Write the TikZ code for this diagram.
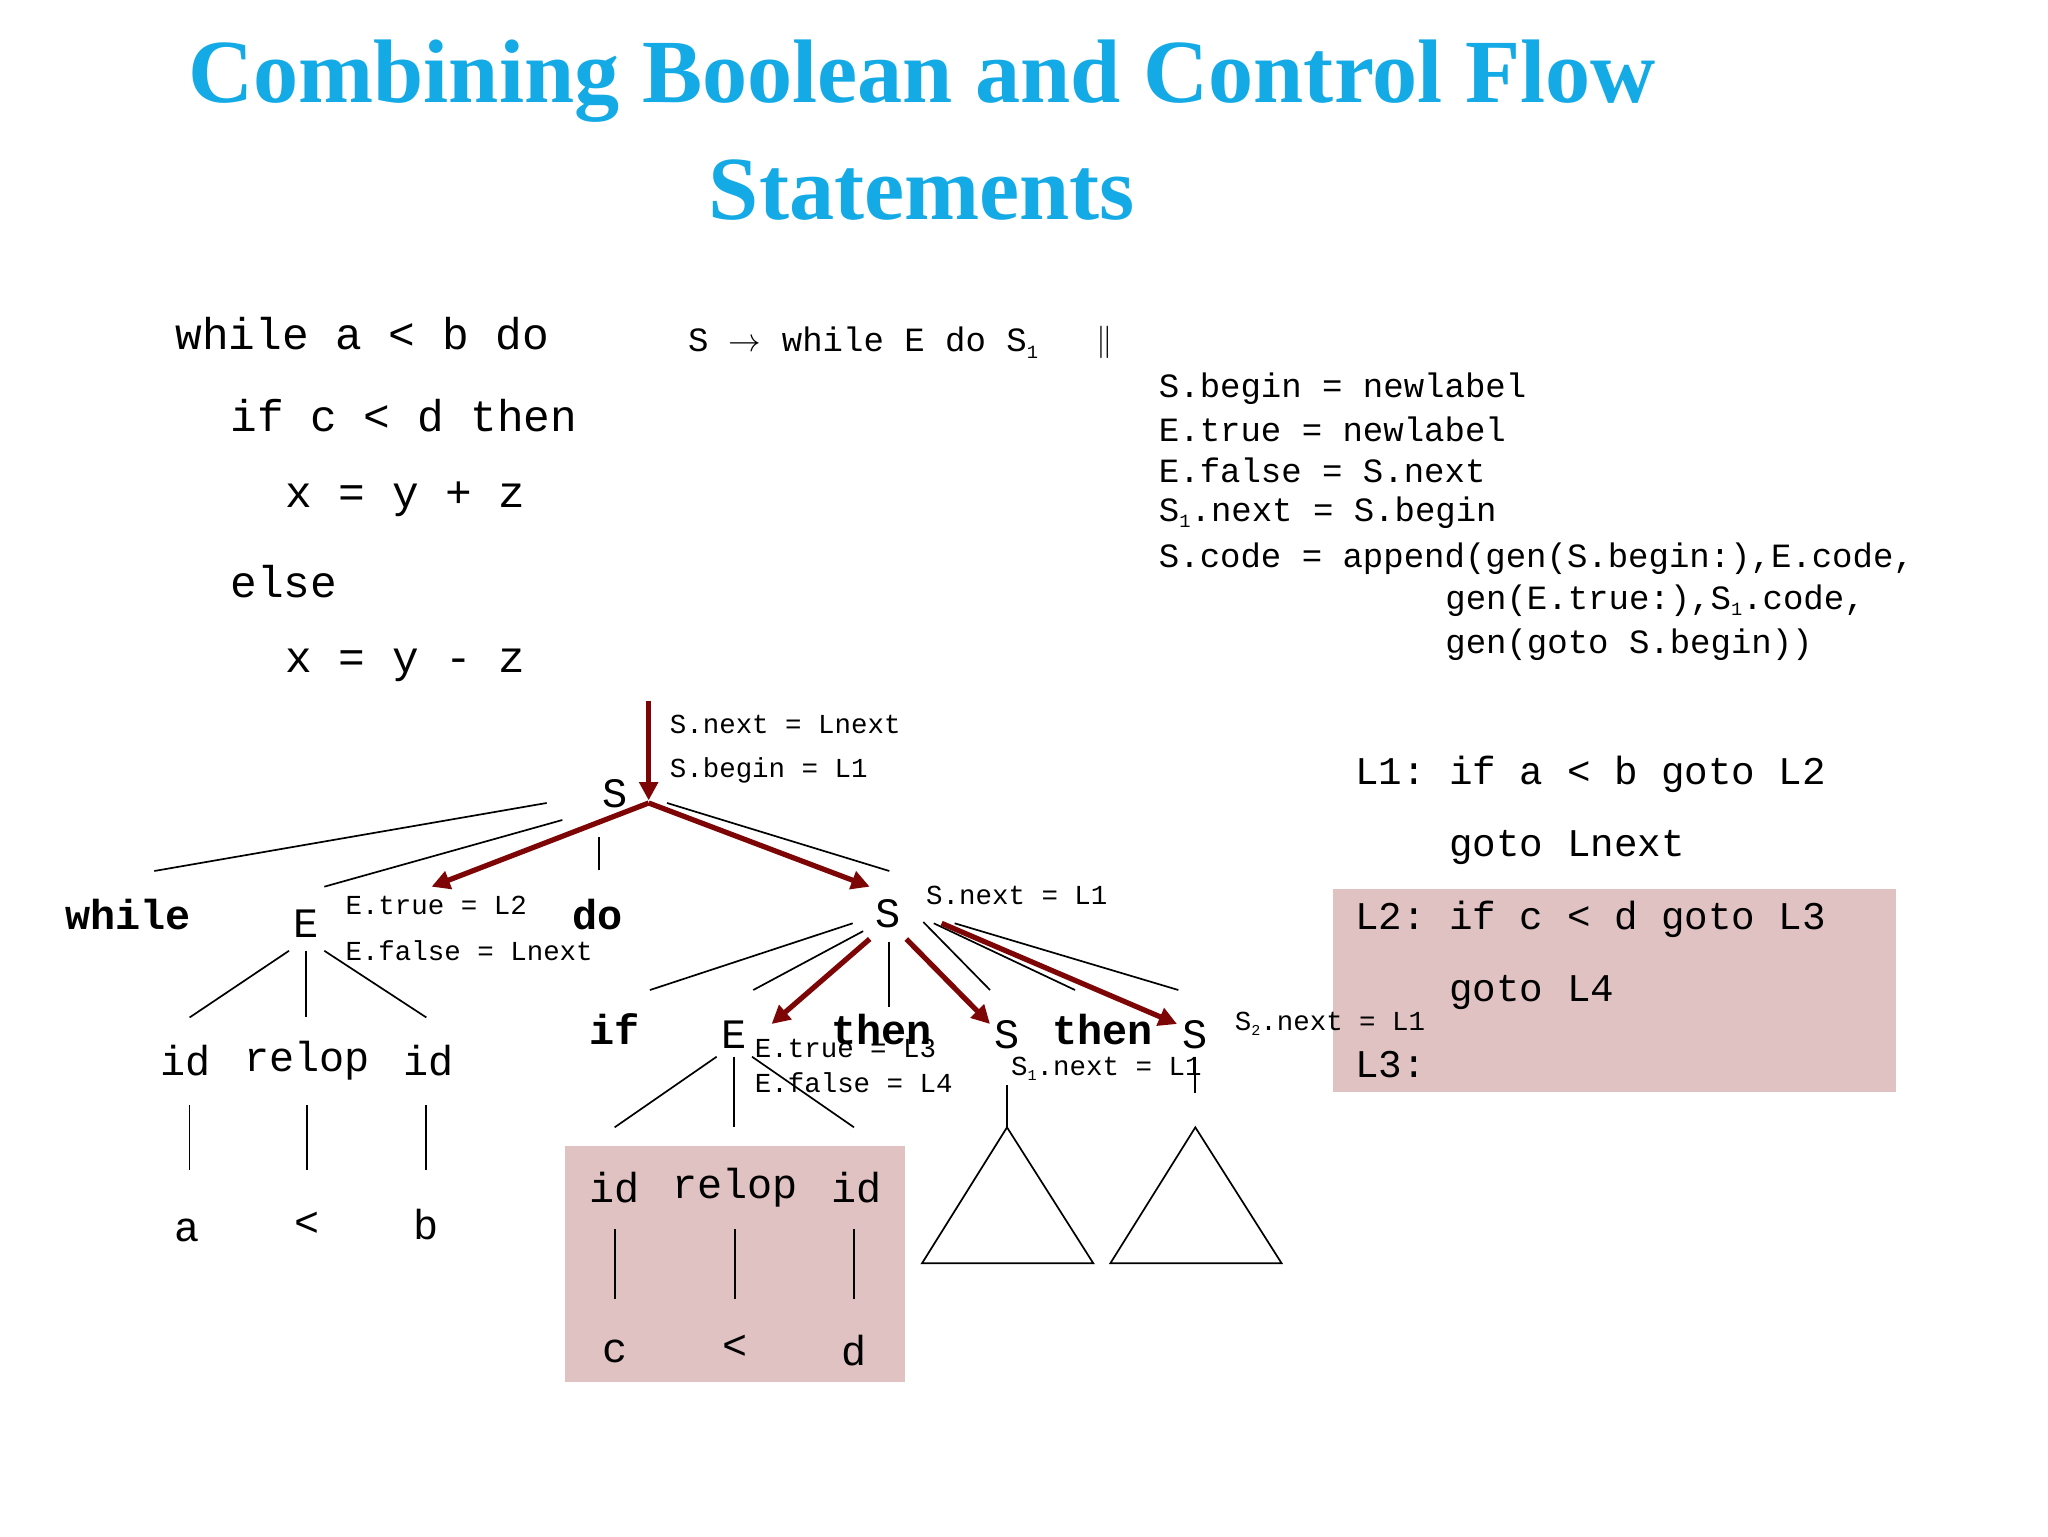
\documentclass[tikz,border=0pt]{standalone}
\usepackage{fontspec}
\setmainfont{Liberation Serif}
\setmonofont{Liberation Mono}
\usetikzlibrary{arrows.meta}
\definecolor{ttl}{RGB}{20,170,230}
\definecolor{dred}{RGB}{125,5,5}
\definecolor{pinkbox}{RGB}{224,194,194}
\newcommand{\mysub}[1]{\raisebox{-0.35ex}{\scalebox{0.55}{#1}}}
\tikzset{
 big/.style={font=\ttfamily\fontsize{34}{36}\selectfont, anchor=west, inner sep=0},
 mid/.style={font=\ttfamily\fontsize{26}{28}\selectfont, anchor=west, inner sep=0},
 sm/.style={font=\ttfamily\fontsize{21}{23}\selectfont, anchor=west, inner sep=0},
 lab/.style={font=\ttfamily\fontsize{30}{32}\selectfont, anchor=west, inner sep=0},
 tn/.style={font=\ttfamily\fontsize{32}{34}\selectfont, inner sep=0},
 tb/.style={font=\ttfamily\bfseries\fontsize{32}{34}\selectfont, inner sep=0},
 ln/.style={line width=1.3pt},
 ra/.style={draw=dred, line width=4pt, -{Triangle[length=14pt,width=14pt]}},
}
\begin{document}
\begin{tikzpicture}[x=1pt,y=-1pt]
\useasboundingbox (0,0) rectangle (1566,1175);
\node[font=\bfseries\fontsize{69}{72}\selectfont, text=ttl] (t1) at (705,62) {Combining Boolean and Control Flow};
\node[font=\bfseries\fontsize{69}{72}\selectfont, text=ttl] (t2) at (705,145) {Statements};
% source code
\node[big] (c1) at (134,255) {while a < b do};
\node[big] (c2) at (176,318) {if c < d then};
\node[big] (c3) at (218,382) {x = y + z};
\node[big] (c4) at (176,445) {else};
\node[big] (c5) at (218,509) {x = y - z};
% production
\node[mid] (p) at (526,262) {S $\rightarrow$ while E do S\mysub{1}};
\node[mid] (pp) at (838,262) {$\Vert$};
\node[mid] (r1) at (886,297) {S.begin = newlabel};
\node[mid] (r2) at (886,328) {E.true = newlabel};
\node[mid] (r3) at (886,360) {E.false = S.next};
\node[mid] (r4) at (886,392) {S\mysub{1}.next = S.begin};
\node[mid] (r5) at (886,427) {S.code = append(gen(S.begin:),E.code,};
\node[mid] (r6) at (1105,459) {gen(E.true:),S\mysub{1}.code,};
\node[mid] (r7) at (1105,493) {gen(goto S.begin))};
% right code
\fill[pinkbox] (1019,680) rectangle (1450,835);
\node[lab] (k1) at (1036,592) {L1: if a < b goto L2};
\node[lab] (k2) at (1108,648) {goto Lnext};
\node[lab] (k3) at (1036,703) {L2: if c < d goto L3};
\node[lab] (k4) at (1108,759) {goto L4};
\node[lab] (k5) at (1036,814) {L3:};
% tree
\fill[pinkbox] (432,876) rectangle (692,1057);
\coordinate (top) at (496,536);
\node[tn] (S0) at (470,607) {S};
\draw[ra] (top) -- (496,612);
\node[sm] (a1) at (512,554) {S.next = Lnext};
\node[sm] (a2) at (512,589) {S.begin = L1};
\node[tb] (wh) at (98,699) {while};
\node[tn] (E1) at (234,706) {E};
\node[sm] (a3) at (264,692) {E.true = L2};
\node[sm] (a4) at (264,727) {E.false = Lnext};
\node[tb] (do) at (457,699) {do};
\node[tn] (S1) at (679,699) {S};
\node[sm] (a5) at (708,685) {S.next = L1};
\draw[ln] (418,614) -- (118,666);
\draw[ln] (430,627) -- (248,678);
\draw[ln] (458,640) -- (458,665);
\draw[ln] (510,614) -- (680,666);
\draw[ra] (496,614) -- (330,678);
\draw[ra] (496,614) -- (665,678);
% E1 subtree
\draw[ln] (221,727) -- (145,778);
\draw[ln] (234,727) -- (234,778);
\draw[ln] (248,727) -- (326,778);
\node[tn] (i1) at (142,811) {id};
\node[tn] (r1n) at (235,811) {relop};
\node[tn] (i2) at (328,811) {id};
\foreach \x in {145,235,326} \draw[ln] (\x,845) -- (\x,895);
\node[tn] (va) at (143,941) {a};
\node[tn] (vl) at (235,936) {<};
\node[tn] (vb) at (326,936) {b};
% S1 subtree
\draw[ln] (652,706) -- (497,757);
\draw[ln] (660,712) -- (576,757);
\draw[ln] (680,720) -- (680,770);
\draw[ln] (706,705) -- (757,757);
\draw[ln] (714,706) -- (822,757);
\draw[ln] (730,706) -- (901,757);
\node[tb] (if) at (470,787) {if};
\node[tn] (E2) at (561,791) {E};
\node[tb] (th1) at (674,787) {then};
\node[tn] (S2) at (770,791) {S};
\node[tb] (th2) at (843,787) {then};
\node[tn] (S3) at (914,791) {S};
\draw[ra] (665,718) -- (590,783);
\draw[ra] (693,718) -- (757,783);
\draw[ra] (720,706) -- (900,783);
\node[sm] (a6) at (577,802) {E.true = L3};
\node[sm] (a7) at (577,828) {E.false = L4};
\node[sm] (a8) at (773,817) {S\mysub{1}.next = L1};
\node[sm] (a9) at (944,783) {S\mysub{2}.next = L1};
\draw[ln] (548,808) -- (470,862);
\draw[ln] (561,808) -- (561,862);
\draw[ln] (575,808) -- (653,862);
\node[tn] (i3) at (470,908) {id};
\node[tn] (r2n) at (562,908) {relop};
\node[tn] (i4) at (655,908) {id};
\foreach \x in {470,562,653} \draw[ln] (\x,940) -- (\x,993);
\node[tn] (vc) at (470,1033) {c};
\node[tn] (vlt) at (562,1030) {<};
\node[tn] (vd) at (653,1033) {d};
\draw[ln] (770,830) -- (770,862);
\draw[ln] (770,862) -- (705,966) -- (836,966) -- cycle;
\draw[ln] (914,808) -- (914,836);
\draw[ln] (914,862) -- (849,966) -- (980,966) -- cycle;
\end{tikzpicture}
\end{document}
